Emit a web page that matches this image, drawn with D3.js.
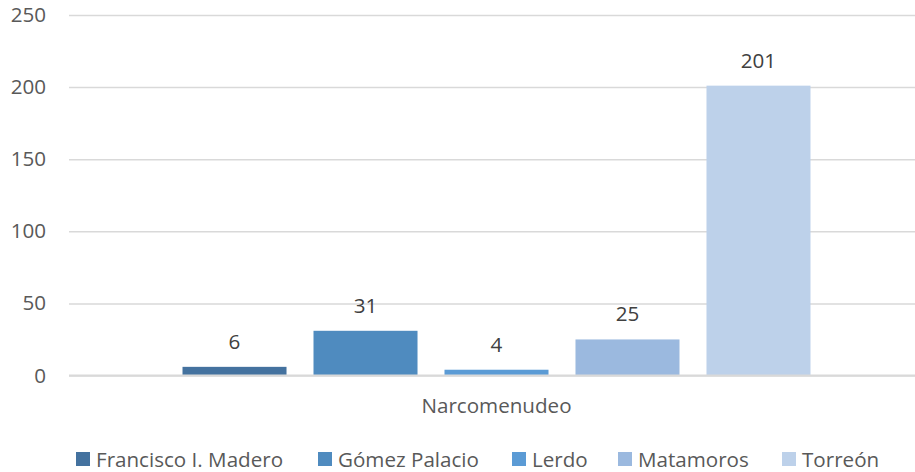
<!DOCTYPE html>
<html>
<head>
<meta charset="utf-8">
<script src="https://cdn.jsdelivr.net/npm/d3@7"></script>
<style>
	body { margin: 0; background: #fff; }
	text { font-family: "Open Sans", Lato, sans-serif; }
</style>
</head>
<body>
<div id="graph"></div>
<script>
const category = "Narcomenudeo";
const series = ["Francisco I. Madero", "Gómez Palacio", "Lerdo", "Matamoros", "Torreón"];
const values = [6, 31, 4, 25, 201];
const colors = ["#44729f", "#4f8bbf", "#5b9bd5", "#9bb9df", "#bdd1ea"];
const yTicks = [0, 50, 100, 150, 200, 250];

const width = 915, height = 472;
const plot = {left: 69, right: 924, top: 15, bottom: 375.5};
const fontSize = "20.6px";

const svg = d3.select("#graph")
	.append("svg")
	.attr("width", width)
	.attr("height", height);

const yScale = d3.scaleLinear()
	.domain([0, 250])
	.range([plot.bottom, plot.top]);

const x0 = d3.scaleBand()
	.domain([category])
	.range([plot.left, plot.right])
	.paddingInner(0)
	.paddingOuter(0.1527);

const x1 = d3.scaleBand()
	.domain(series)
	.range([0, x0.bandwidth()])
	.paddingInner(0.206)
	.paddingOuter(0.103);

// gridlines
const yAxis = d3.axisLeft(yScale)
	.tickValues(yTicks)
	.tickSize(-(plot.right - plot.left))
	.tickPadding(23);

svg.append("g")
	.attr("id", "y-axis")
	.attr("transform", "translate(" + plot.left + ",0)")
	.call(yAxis)
	.call(g => g.select(".domain").remove())
	.call(g => g.selectAll(".tick line")
		.attr("stroke", "#d9d9d9")
		.attr("stroke-width", 1.5))
	.call(g => g.selectAll(".tick text")
		.attr("fill", "#595959")
		.attr("font-family", "'Open Sans', sans-serif")
		.attr("font-size", fontSize));

// bars
svg.append("g")
	.selectAll("rect")
	.data(series)
	.enter().append("rect")
	.attr("x", (d) => x0(category) + x1(d))
	.attr("y", (d, i) => yScale(values[i]))
	.attr("width", x1.bandwidth())
	.attr("height", (d, i) => yScale(0) - yScale(values[i]))
	.attr("fill", (d, i) => colors[i]);

// zero axis line on top
svg.append("line")
	.attr("x1", plot.left)
	.attr("x2", plot.right)
	.attr("y1", yScale(0))
	.attr("y2", yScale(0))
	.attr("stroke", "#d9d9d9")
	.attr("stroke-width", 2);

// data labels
svg.append("g")
	.selectAll("text")
	.data(series)
	.enter().append("text")
	.attr("x", (d) => x0(category) + x1(d) + x1.bandwidth() / 2)
	.attr("y", (d, i) => yScale(values[i]) - 18)
	.attr("text-anchor", "middle")
	.attr("fill", "#404040")
	.attr("font-size", fontSize)
	.text((d, i) => values[i]);

// category label
svg.append("text")
	.attr("x", x0(category) + x0.bandwidth() / 2)
	.attr("y", 413)
	.attr("text-anchor", "middle")
	.attr("fill", "#595959")
	.attr("font-size", fontSize)
	.text(category);

// legend
const legendX = [76, 318, 512, 618, 782];
const legend = svg.append("g")
	.selectAll("g")
	.data(series)
	.enter().append("g")
	.attr("transform", (d, i) => "translate(" + legendX[i] + ",452)");

legend.append("rect")
	.attr("width", 14)
	.attr("height", 14)
	.attr("fill", (d, i) => colors[i]);

legend.append("text")
	.attr("x", 20)
	.attr("y", 14.5)
	.attr("fill", "#595959")
	.attr("font-size", fontSize)
	.text((d) => d);
</script>
</body>
</html>
